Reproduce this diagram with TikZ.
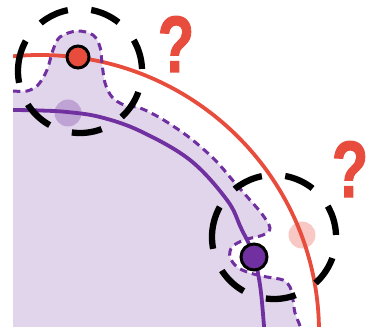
\documentclass[tikz,border=0pt]{standalone}
\usepackage{graphicx}
\usepackage{fontspec}
\setmainfont{Liberation Sans}
\newfontfamily\qfont{Liberation Sans Bold}[FakeBold=1.5]
\definecolor{myred}{HTML}{E74C3C}
\definecolor{mypurple}{HTML}{7030A0}
\definecolor{lav}{HTML}{E1D5EB}
\begin{document}
\begin{tikzpicture}[x=1pt,y=-1pt,
  bline/.style={line width=3.8pt},
  bounddash/.style={draw=mypurple,line width=3pt,dash pattern=on 7.5pt off 5pt},
  ring/.style={draw=black,line width=6.3pt,dash pattern=on 30.3pt off 23.5pt},
  qmark/.style={text=myred,font=\fontsize{80}{80}\qfont,anchor=base,inner sep=0pt},
  dot/.style={circle,draw=black,line width=3pt,inner sep=0pt},
  ghost/.style={circle,inner sep=0pt,minimum size=27pt,opacity=0.3}]
\useasboundingbox (0,0) rectangle (371,328);
\begin{scope}
  \clip (13,0) rectangle (371,326);
  \fill[lav] plot[smooth,tension=0.55] coordinates {(13,91) (27,91) (38,85) (47,70) (53,50) (60,37) (77,31) (93,35) (100,47) (102,63) (105,83) (112,97) (124,105) (140,108) (162,119) (190,138) (215,160) (235,183) (250,200) (262,214) (270,228) (263,235) (244,240) (232,247) (230,257) (237,267) (250,273) (267,277) (283,280) (290,287) (293,300) (295,313) (300,326) (302,336)} -- (13,340) -- cycle;
  \node[ghost,fill=mypurple] (pg) at (68,113) {};
  \draw[mypurple,bline] plot[smooth,tension=0.6] coordinates {(0,110) (13,110) (40,110.5) (67,112) (100,117) (140,131) (190,160) (227,200) (241,228) (253,254) (260,285) (264,326) (265,340)};
  \draw[myred,bline] (40,332) ellipse[x radius=279pt,y radius=277pt];
  \draw[bounddash] plot[smooth,tension=0.55] coordinates {(13,91) (27,91) (38,85) (47,70) (53,50) (60,37) (77,31) (93,35) (100,47) (102,63) (105,83) (112,97) (124,105) (140,108) (162,119) (190,138) (215,160) (235,183) (250,200) (262,214) (270,228) (263,235) (244,240) (232,247) (230,257) (237,267) (250,273) (267,277) (283,280) (290,287) (293,300) (295,313) (300,326) (302,336)};
  \node[ghost,fill=myred] (rg) at (302,235) {};
\end{scope}
\node[dot,fill=myred,minimum size=22pt] (rdot) at (78,57) {};
\node[dot,fill=mypurple,minimum size=26pt] (pdot) at (254,257) {};
\coordinate (c1) at (80,71);
\coordinate (c2) at (274,237);
\draw[ring] (c1) ++(163:62pt) arc[start angle=163,delta angle=360,radius=62pt];
\draw[ring] (c2) ++(163:62pt) arc[start angle=163,delta angle=360,radius=62pt];
\node[qmark] (q1) at (176,72) {\scalebox{0.75}[1]{?}};
\node[qmark] (q2) at (350,197) {\scalebox{0.75}[1]{?}};
\end{tikzpicture}
\end{document}
